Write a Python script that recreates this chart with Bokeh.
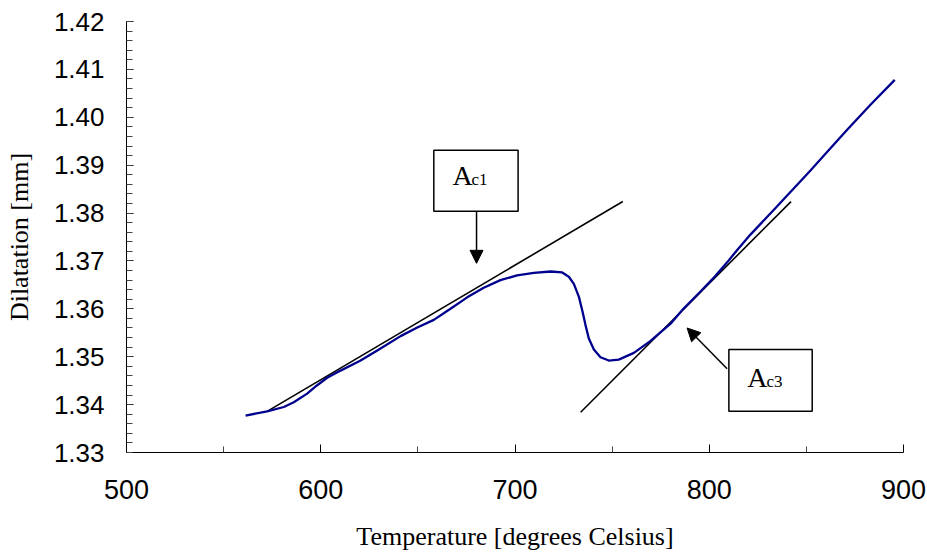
from bokeh.plotting import figure
from bokeh.models import Range1d, FixedTicker, Arrow, NormalHead, Label
from bokeh.embed import file_html
from bokeh.resources import INLINE

# ---- data ----
temperature = [561.3, 572.4, 581.0, 586.1, 593.0, 598.0, 603.3, 610.2, 620.5, 629.1, 641.1,
               649.7, 658.2, 666.8, 675.4, 683.9, 692.5, 701.1, 709.7, 718.3, 724.3,
               727.7, 730.3, 732.9, 734.6, 736.3, 738.0, 740.6, 744.0, 748.3, 753.4,
               761.2, 769.8, 780.1, 786.7, 795.0, 803.0, 810.0, 814.4, 821.2, 834.0,
               847.8, 852.1, 861.0, 871.0, 883.0, 895.5]
dilatation = [1.3377, 1.3386, 1.3395, 1.3405, 1.3423, 1.3440, 1.3456, 1.3471, 1.3492, 1.3513, 1.3543,
              1.3561, 1.3577, 1.3600, 1.3624, 1.3644, 1.3660, 1.3670, 1.3675, 1.3678, 1.3676,
              1.3667, 1.3652, 1.3625, 1.3597, 1.3566, 1.3538, 1.3515, 1.3499, 1.3492, 1.3494,
              1.3508, 1.3533, 1.3569, 1.3600, 1.3634, 1.3668, 1.3701, 1.3723, 1.3755, 1.3810,
              1.3870, 1.3889, 1.3929, 1.3974, 1.4026, 1.4078]

tangent1_t = [572.4, 755.5]
tangent1_d = [1.3386, 1.3824]
tangent2_t = [733.8, 842.1]
tangent2_d = [1.3384, 1.3824]

x_ticks = [500, 600, 700, 800, 900]
x_minor = [550, 650, 750, 850]
y_ticks = [1.33, 1.34, 1.35, 1.36, 1.37, 1.38, 1.39, 1.40, 1.41, 1.42]
y_minor = [round(1.33 + 0.002 * i, 3) for i in range(46)]
y_tick_labels = {v: f"{v:.2f}" for v in y_ticks}

# ---- annotation placement (data units) ----
ac1_box = dict(left=658.2, right=701.6, top=1.3931, bottom=1.3804)
ac1_arrow = dict(x_start=680.2, y_start=1.3804, x_end=680.2, y_end=1.3695)
ac1_text = (667.8, 1.3858, 677.6)
ac3_box = dict(left=810.1, right=853.0, top=1.3515, bottom=1.3386)
ac3_arrow = dict(x_start=809.2, y_start=1.3475, x_end=788.6, y_end=1.3560)
ac3_text = (819.5, 1.3436, 829.5)
big_size, small_size = 28, 17
px_per_unit = 431 / 0.09

p = figure(frame_width=777, frame_height=431,
           min_border_left=126, min_border_right=24, min_border_top=21, min_border_bottom=105,
           x_range=Range1d(500, 900), y_range=Range1d(1.33, 1.42),
           output_backend="svg", toolbar_location=None)
p.outline_line_color = None
p.xgrid.visible = False
p.ygrid.visible = False
p.background_fill_color = "white"
p.border_fill_color = "white"

# axes
p.xaxis.ticker = FixedTicker(ticks=x_ticks, minor_ticks=x_minor)
p.yaxis.ticker = FixedTicker(ticks=y_ticks, minor_ticks=y_minor)
p.yaxis.major_label_overrides = y_tick_labels
for ax in (p.xaxis[0], p.yaxis[0]):
    ax.axis_line_color = "black"
    ax.axis_line_width = 1
    ax.major_tick_line_color = "black"
    ax.minor_tick_line_color = "#444444"
    ax.major_tick_out = 0
    ax.minor_tick_out = 0
    ax.major_label_text_font = "Liberation Sans"
    ax.major_label_text_color = "black"
    ax.axis_label_text_font = "Liberation Serif"
    ax.axis_label_text_font_style = "normal"
    ax.axis_label_text_color = "black"
    ax.axis_label_text_font_size = "26px"

p.xaxis.major_tick_in = 8
p.xaxis.minor_tick_in = 6
p.yaxis.major_tick_in = 7
p.yaxis.minor_tick_in = 6
p.xaxis.major_label_text_font_size = "27px"
p.yaxis.major_label_text_font_size = "26px"
p.xaxis.major_label_standoff = 27
p.yaxis.major_label_standoff = 22
p.xaxis.axis_label = "Temperature [degrees Celsius]"
p.yaxis.axis_label = "Dilatation [mm]"
p.xaxis.axis_label_standoff = 20
p.yaxis.axis_label_standoff = 17

# tangent lines
p.line(tangent1_t, tangent1_d, line_color="black", line_width=1.6)
p.line(tangent2_t, tangent2_d, line_color="black", line_width=1.6)

# curve
p.line(temperature, dilatation, line_color="#00008F", line_width=2.3, line_join="round")

# annotation boxes and arrows
for box in (ac1_box, ac3_box):
    p.quad(left=[box["left"]], right=[box["right"]], top=[box["top"]], bottom=[box["bottom"]],
           fill_color="white", line_color="black", line_width=1.5)

for arr in (ac1_arrow, ac3_arrow):
    p.add_layout(Arrow(end=NormalHead(size=13, fill_color="black", line_color="black", line_width=1),
                       line_color="black", line_width=1.5, **arr))

for (tx, ty, sx), sub in ((ac1_text, "c1"), (ac3_text, "c3")):
    p.add_layout(Label(x=tx, y=ty - 0.216 * big_size / px_per_unit, text="A",
                       text_font="Liberation Serif", text_font_size=f"{big_size}px",
                       text_baseline="bottom", text_align="left", text_color="black"))
    p.add_layout(Label(x=sx, y=ty - 0.216 * small_size / px_per_unit, text=sub,
                       text_font="Liberation Serif", text_font_size=f"{small_size}px",
                       text_baseline="bottom", text_align="left", text_color="black"))

open("out.html", "w").write(file_html(p, INLINE))
